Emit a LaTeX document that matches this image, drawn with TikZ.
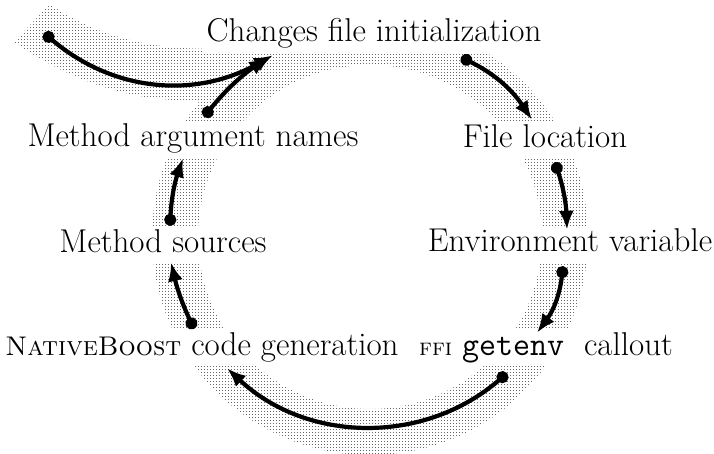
\documentclass[tikz,border=0pt]{standalone}
\usetikzlibrary{arrows.meta,patterns}

\pgfdeclarepatternformonly{halodots}{\pgfpointorigin}{\pgfqpoint{3pt}{3pt}}{\pgfqpoint{3pt}{3pt}}{
  \pgfpathrectangle{\pgfpointorigin}{\pgfqpoint{1.2pt}{1.2pt}}
  \pgfusepath{fill}
}

\tikzset{
  stage/.style={fill=white, inner sep=3pt, text height=23pt, text depth=7pt,
                font=\fontsize{33}{38}\selectfont},
  flow/.style={line width=4.2pt, {Circle[length=12pt]}-{Latex[length=19pt,width=15pt]}},
  halo/.style={pattern=halodots, pattern color=black!60},
}

\begin{document}
\begin{tikzpicture}[x=1pt, y=1pt]
  \useasboundingbox (0,0) rectangle (714,454);

  % dotted band under the loop
  \fill[halo, even odd rule] (370,217) circle (218) (370,217) circle (172);
  \fill[halo] (50,450) .. controls (120,400) and (220,395) .. (300,420)
    -- (310,385) .. controls (220,335) and (110,345) .. (14,412) -- cycle;

  \node[stage] (chg)  at (374,420) {Changes file initialization};
  \node[stage] (loc)  at (545,314) {File location};
  \node[stage] (env)  at (570,210) {Environment variable};
  \node[stage] (ffi)  at (546,106) {{\fontsize{24}{28}\selectfont\textsc{ffi}} \texttt{getenv}\ \ callout};
  \node[stage] (nb)   at (202,106) {{\fontsize{27}{30}\selectfont\textsc{NativeBoost}} code generation};
  \node[stage] (msrc) at (163,209) {Method sources};
  \node[stage] (marg) at (193,315) {Method argument names};
  \coordinate (entry) at (44,421);

  \draw[flow] (entry) to[bend right=35] ([xshift=-101pt,yshift=-3pt]chg.south);
  \draw[flow] ([xshift=11pt,yshift=4pt]marg.north) to[bend left=8] ([xshift=-106pt,yshift=-5pt]chg.south);
  \draw[flow] ([xshift=87pt,yshift=-5pt]chg.south) to[bend left=15] ([xshift=-13pt,yshift=2pt]loc.north);
  \draw[flow] ([xshift=10pt,yshift=-4pt]loc.south) to[bend left=8] ([xshift=-3pt,yshift=-4pt]env.north);
  \draw[flow] ([xshift=-7pt,yshift=-4pt]env.south) to[bend left=15] ([xshift=-9pt,yshift=-3pt]ffi.north);
  \draw[flow] ([xshift=-39pt,yshift=-7pt]ffi.south) to[bend left=42] ([xshift=25pt,yshift=-2pt]nb.south);
  \draw[flow] ([xshift=-8pt,yshift=1pt]nb.north) to[bend left=6] ([xshift=8pt,yshift=1pt]msrc.south);
  \draw[flow] ([xshift=7pt,yshift=1pt]msrc.north) to[bend left=8] ([xshift=-10pt,yshift=-1pt]marg.south);
\end{tikzpicture}
\end{document}
